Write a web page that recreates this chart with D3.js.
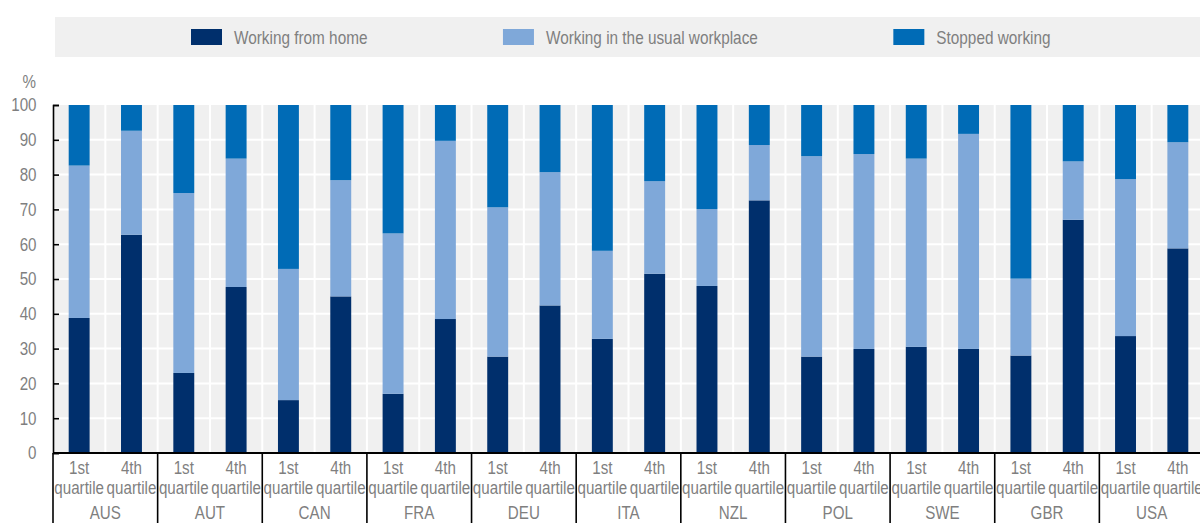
<!DOCTYPE html>
<html>
<head>
<meta charset="utf-8">
<script src="https://cdn.jsdelivr.net/npm/d3@7"></script>
<style>
  html, body { margin: 0; padding: 0; background: #fff; }
  svg { display: block; }
  text { font-family: "Liberation Sans", Arial, sans-serif; fill: #7f7f7f; }
</style>
</head>
<body>
<svg id="chart" width="1200" height="523"></svg>
<script>
// ---- Data ----
const countries = ["AUS", "AUT", "CAN", "FRA", "DEU", "ITA", "NZL", "POL", "SWE", "GBR", "USA"];
const quartiles = ["1st quartile", "4th quartile"];
const seriesNames = ["Working from home", "Working in the usual workplace", "Stopped working"];
// values ordered: [AUS 1st, AUS 4th, AUT 1st, AUT 4th, ...]
const workingFromHome = [38.8, 62.7, 23.0, 47.7, 15.2, 45.0, 17.0, 38.5, 27.7, 42.4, 32.8, 51.5, 48.0, 72.6, 27.7, 29.9, 30.5, 29.9, 28.0, 67.0, 33.6, 58.8];
const workingUsualPlace = [43.8, 29.9, 51.7, 36.9, 37.7, 33.4, 46.1, 51.2, 42.9, 38.3, 25.3, 26.6, 22.1, 15.9, 57.6, 56.0, 54.1, 61.8, 22.1, 16.8, 45.1, 30.5];
const stoppedWorking = [17.4, 7.4, 25.3, 15.4, 47.1, 21.6, 36.9, 10.3, 29.4, 19.3, 41.9, 21.9, 29.9, 11.5, 14.7, 14.1, 15.4, 8.3, 49.9, 16.2, 21.3, 10.7];
const yTicks = [0, 10, 20, 30, 40, 50, 60, 70, 80, 90, 100];
const colors = ["#002f6c", "#7fa8d9", "#006bb6"];

(function () {
const SX = 0.82; // horizontal condensation to mimic a narrow font

// ---- Build rows ----
const rows = [];
countries.forEach((c, ci) => {
  quartiles.forEach((q, qi) => {
    const i = ci * 2 + qi;
    rows.push({ country: c, quartile: q, v: [workingFromHome[i], workingUsualPlace[i], stoppedWorking[i]] });
  });
});
const stacked = rows.map(r => {
  let acc = 0;
  return r.v.map((val, si) => { const s = { row: r, si, y0: acc, y1: acc + val }; acc += val; return s; });
});

// ---- Layout ----
const svg = d3.select("#chart");
const mLeft = 53, mRight = 1204, mTop = 105, mBottom = 453;

const x0 = d3.scaleBand().domain(countries).range([mLeft, mRight]).padding(0);
const x1 = d3.scaleBand().domain(quartiles).range([0, x0.bandwidth()]).paddingInner(0.6).paddingOuter(0.3);
const y = d3.scaleLinear().domain([0, 100]).range([mBottom, mTop]);

function label(parent, x, yy, str, size, anchor) {
  return parent.append("text")
    .attr("transform", `translate(${x},${yy}) scale(${SX},1)`)
    .attr("text-anchor", anchor || "start")
    .attr("font-size", size)
    .text(str);
}

// plot background
svg.append("rect").attr("x", mLeft).attr("y", y(100)).attr("width", mRight - mLeft).attr("height", y(0) - y(100)).attr("fill", "#f0f0f0");

// horizontal grid
svg.append("g").selectAll("line").data(yTicks.filter(t => t > 0 && t < 100)).join("line")
  .attr("x1", mLeft).attr("x2", mRight).attr("y1", d => y(d)).attr("y2", d => y(d))
  .attr("stroke", "#fff").attr("stroke-width", 2);

// vertical grid at band boundaries
const vlines = [];
countries.forEach(c => { vlines.push(x0(c) + x0.bandwidth() / 2); vlines.push(x0(c) + x0.bandwidth()); });
svg.append("g").selectAll("line").data(vlines).join("line")
  .attr("x1", d => d).attr("x2", d => d).attr("y1", y(100)).attr("y2", y(0))
  .attr("stroke", "#fff").attr("stroke-width", 2);

// bars
svg.append("g").selectAll("g").data(stacked).join("g")
  .selectAll("rect").data(d => d).join("rect")
  .attr("x", d => x0(d.row.country) + x1(d.row.quartile))
  .attr("width", x1.bandwidth())
  .attr("y", d => y(d.y1))
  .attr("height", d => y(d.y0) - y(d.y1))
  .attr("fill", d => colors[d.si]);

// y axis
const yAxis = d3.axisLeft(y).tickValues(yTicks).tickSizeInner(-6).tickSizeOuter(-6).tickPadding(17);
const ya = svg.append("g").attr("transform", `translate(${mLeft},0)`).call(yAxis);
ya.select(".domain").attr("stroke", "#000").attr("stroke-width", 1.6);
ya.selectAll(".tick line").attr("stroke", "#000").attr("stroke-width", 1.6);
ya.selectAll(".tick text")
  .attr("font-size", 18.5).attr("fill", "#7f7f7f")
  .style("font-family", '"Liberation Sans", Arial, sans-serif')
  .attr("x", -16.5 / SX)
  .attr("transform", `scale(${SX},1)`);

label(svg, 36, 88, "%", 18.5, "end");

// baseline
svg.append("line").attr("x1", mLeft).attr("x2", mRight).attr("y1", y(0)).attr("y2", y(0))
  .attr("stroke", "#000").attr("stroke-width", 2);

// group separators
const seps = [mLeft].concat(countries.map(c => x0(c) + x0.bandwidth()));
svg.append("g").selectAll("line").data(seps).join("line")
  .attr("x1", d => d).attr("x2", d => d).attr("y1", y(0)).attr("y2", 523)
  .attr("stroke", "#000").attr("stroke-width", 1.6);

// x labels
const xl = svg.append("g");
rows.forEach(r => {
  const cx = x0(r.country) + x1(r.quartile) + x1.bandwidth() / 2;
  const parts = r.quartile.split(" ");
  label(xl, cx, 474, parts[0], 18.5, "middle");
  label(xl, cx, 494, parts[1], 18.5, "middle");
});
countries.forEach(c => {
  label(xl, x0(c) + x0.bandwidth() / 2, 519, c, 18.5, "middle");
});

// legend
svg.append("rect").attr("x", 55).attr("y", 17).attr("width", 1145).attr("height", 40).attr("fill", "#f0f0f0");
let lx = 191;
seriesNames.forEach((name, i) => {
  svg.append("rect").attr("x", lx).attr("y", 29).attr("width", 31).attr("height", 16).attr("fill", colors[i]);
  const t = label(svg, lx + 43, 43.5, name, 18.7, "start");
  lx = lx + 43 + t.node().getComputedTextLength() * SX + 135.5;
});
})();
</script>
</body>
</html>
